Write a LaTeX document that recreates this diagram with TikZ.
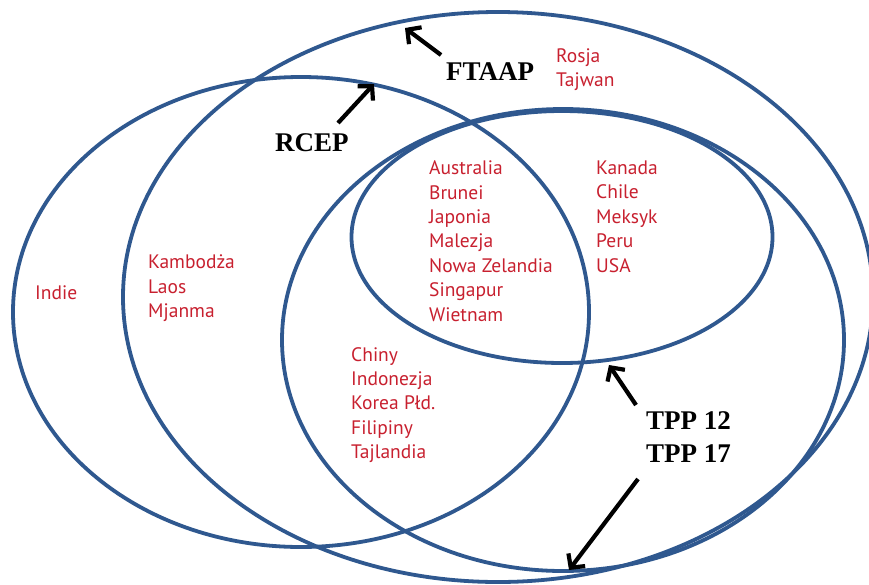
\documentclass[tikz,border=0pt]{standalone}
\usepackage{fontspec}
\setmainfont{Liberation Serif}
\newfontfamily\countryfont{PT Sans}
\usetikzlibrary{shapes.geometric,arrows.meta}
\definecolor{ringblue}{RGB}{47,88,143}
\definecolor{countryred}{RGB}{200,32,47}
\tikzset{
  ring/.style={ellipse, draw=ringblue, line width=3.8pt, inner sep=0pt},
  country/.style={text=countryred, font=\countryfont\fontsize{19.5}{24.35}\selectfont, align=left, anchor=base west, inner sep=0pt},
  bloc/.style={text=black, font=\fontsize{27}{33}\selectfont\bfseries, align=left, anchor=base west, inner sep=0pt},
  pointer/.style={draw=black, line width=4.2pt, -{Straight Barb[length=10pt,width=21pt,line width=4.2pt]}}
}
\begin{document}
\begin{tikzpicture}[x=1pt,y=-1pt]
\useasboundingbox[fill=white] (0,0) rectangle (869,584);
% rings
\node[ring, minimum width=576pt, minimum height=470pt] (rcep) at (301,312) {};
\node[ring, minimum width=750pt, minimum height=570pt] (ftaap) at (498,297) {};
\node[ring, minimum width=562pt, minimum height=462pt] (tpp17) at (563,340) {};
\node[ring, minimum width=421pt, minimum height=252pt] (tpp12) at (562,237) {};
% country lists (anchored at the baseline of their last line)
\node[country] (c1) at (556,86.5) {Rosja\\Tajwan};
\node[country] (c2) at (35,299.5) {Indie};
\node[country] (c3) at (148,317.5) {Kambodża\\Laos\\Mjanma};
\node[country] (c4) at (429,321) {Australia\\Brunei\\Japonia\\Malezja\\Nowa Zelandia\\Singapur\\Wietnam};
\node[country] (c5) at (596,272) {Kanada\\Chile\\Meksyk\\Peru\\USA};
\node[country] (c6) at (351,458.5) {Chiny\\Indonezja\\Korea Płd.\\Filipiny\\Tajlandia};
% bloc labels
\node[bloc] (lftaap) at (446,80) {FTAAP};
\node[bloc] (lrcep) at (275,151) {RCEP};
\node[bloc] (ltpp) at (646,462) {TPP 12\\TPP 17};
% arrow ends
\coordinate (aFt) at (441,55);
\coordinate (bFt) at (405,28);
\coordinate (aRc) at (338,123);
\coordinate (bRc) at (374,84);
\coordinate (aT12) at (636,405);
\coordinate (bT12) at (609,365);
\coordinate (aT17) at (638,479);
\coordinate (bT17) at (569,570);
\draw[pointer] (aFt) -- (bFt);
\draw[pointer] (aRc) -- (bRc);
\draw[pointer] (aT12) -- (bT12);
\draw[pointer] (aT17) -- (bT17);
\end{tikzpicture}
\end{document}
